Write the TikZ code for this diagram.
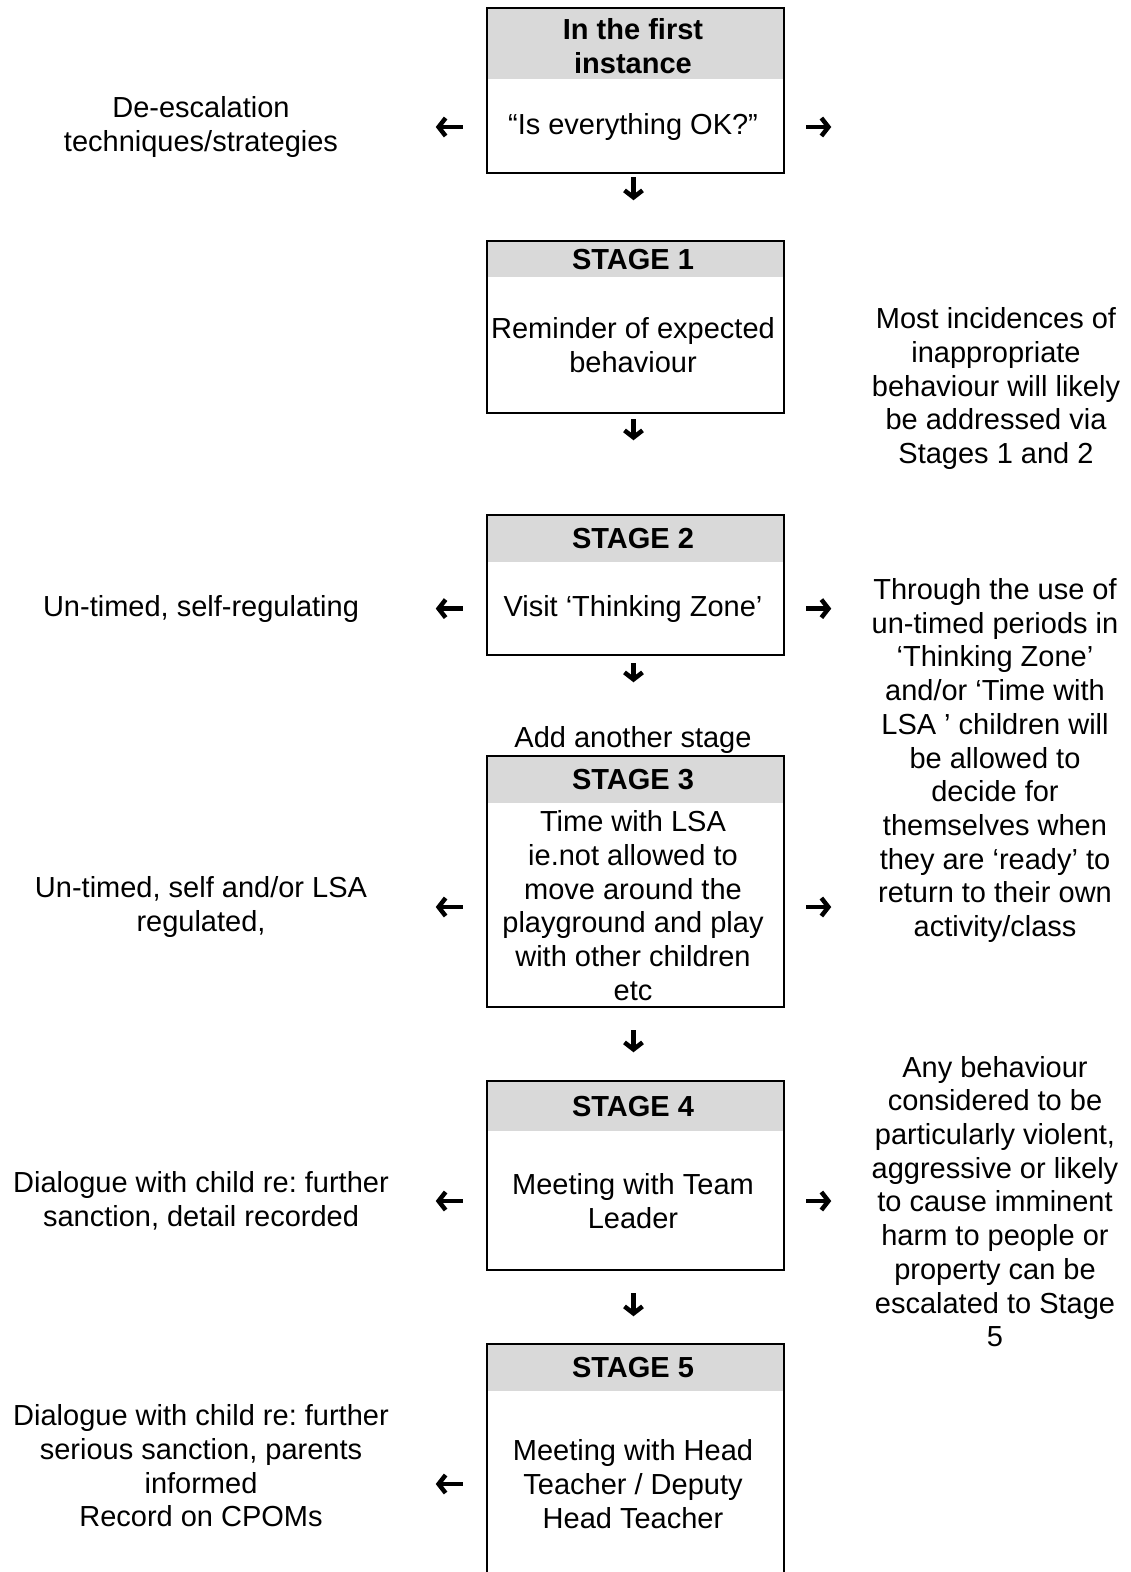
\documentclass[tikz,border=0pt]{standalone}
\usepackage{fontspec}
\setmainfont{Liberation Sans}
\usetikzlibrary{arrows.meta,calc}
\definecolor{hdrgray}{HTML}{D9D9D9}
\newcommand{\fsz}{\fontsize{29}{33.7}\selectfont}
\frenchspacing
\tikzset{
  stagebox/.style={draw, line width=2.5pt, minimum width=297pt, inner sep=0pt},
  txt/.style={align=center, font=\fsz, inner sep=0pt},
  hdrtxt/.style={align=center, font=\fsz\bfseries, inner sep=0pt},
  warrow/.style={line width=4.5pt, -{Straight Barb[length=7pt,width=18pt,line width=4.5pt]}}
}
\begin{document}
\begin{tikzpicture}[x=1pt,y=-1pt]
\useasboundingbox (0,0) rectangle (1131,1572);
\clip (0,0) rectangle (1131,1572);
\fill[white] (0,0) rectangle (1131,1572);
% header fills
\fill[hdrgray] (487,8) rectangle (784,79);
\fill[hdrgray] (487,241) rectangle (784,277);
\fill[hdrgray] (487,515) rectangle (784,562);
\fill[hdrgray] (487,756) rectangle (784,803);
\fill[hdrgray] (487,1081) rectangle (784,1131);
\fill[hdrgray] (487,1344) rectangle (784,1391);
% boxes
\node[stagebox, minimum height=165pt] (b0) at (635.5,90.5) {};
\node[stagebox, minimum height=172pt] (b1) at (635.5,327) {};
\node[stagebox, minimum height=140pt] (b2) at (635.5,585) {};
\node[stagebox, minimum height=251pt] (b3) at (635.5,881.5) {};
\node[stagebox, minimum height=189pt] (b4) at (635.5,1175.5) {};
\node[stagebox, minimum height=256pt] (b5) at (635.5,1472) {};
% box texts
\node[hdrtxt] (h0) at (633,46) {In the first\\instance};
\node[txt] (t0) at (633,127) {“Is everything OK?”};
\node[hdrtxt] (h1) at (633,260) {STAGE 1};
\node[txt] (t1) at (633,345) {Reminder of expected\\behaviour};
\node[hdrtxt] (h2) at (633,538.5) {STAGE 2};
\node[txt] (t2) at (633,608.6) {Visit ‘Thinking Zone’};
\node[txt] (add) at (633,740) {Add another stage};
\node[hdrtxt] (h3) at (633,780) {STAGE 3};
\node[txt] (t3) at (633,905.5) {Time with LSA\\ie.not allowed to\\move around the\\playground and play\\with other children\\etc};
\node[hdrtxt] (h4) at (633,1107) {STAGE 4};
\node[txt] (t4) at (633,1201) {Meeting with Team\\Leader};
\node[hdrtxt] (h5) at (633,1367.5) {STAGE 5};
\node[txt] (t5) at (633,1484) {Meeting with Head\\Teacher / Deputy\\Head Teacher};
% left texts
\node[txt] (l0) at (201,127) {De-escalation\\techniques/strategies};
\node[txt] (l2) at (201,608.6) {Un-timed, self-regulating};
\node[txt] (l3) at (201,907) {Un-timed, self and/or LSA\\regulated,};
\node[txt] (l4) at (201,1201) {Dialogue with child re: further\\sanction, detail recorded};
\node[txt] (l5) at (201,1466) {Dialogue with child re: further\\serious sanction, parents\\informed\\Record on CPOMs};
% right texts
\node[txt] (r1) at (996,388.5) {Most incidences of\\inappropriate\\behaviour will likely\\be addressed via\\Stages 1 and 2};
\node[txt] (r2) at (995,760.5) {Through the use of\\un-timed periods in\\‘Thinking Zone’\\and/or ‘Time with\\LSA ’ children will\\be allowed to\\decide for\\themselves when\\they are ‘ready’ to\\return to their own\\activity/class};
\node[txt] (r3) at (995,1201.6) {Any behaviour\\considered to be\\particularly violent,\\aggressive or likely\\to cause imminent\\harm to people or\\property can be\\escalated to Stage\\5};
% side arrows
\draw[warrow] ($(b0.west|-t0)+(-23,0)$) -- ($(b0.west|-t0)+(-50,0)$);
\draw[warrow] ($(b0.east|-t0)+(21,0)$) -- ($(b0.east|-t0)+(46,0)$);
\draw[warrow] ($(b2.west|-t2)+(-23,0)$) -- ($(b2.west|-t2)+(-50,0)$);
\draw[warrow] ($(b2.east|-t2)+(21,0)$) -- ($(b2.east|-t2)+(46,0)$);
\draw[warrow] ($(b3.west|-l3)+(-23,0)$) -- ($(b3.west|-l3)+(-50,0)$);
\draw[warrow] ($(b3.east|-l3)+(21,0)$) -- ($(b3.east|-l3)+(46,0)$);
\draw[warrow] ($(b4.west|-t4)+(-23,0)$) -- ($(b4.west|-t4)+(-50,0)$);
\draw[warrow] ($(b4.east|-t4)+(21,0)$) -- ($(b4.east|-t4)+(46,0)$);
\draw[warrow] ($(b5.west|-t5)+(-23,0)$) -- ($(b5.west|-t5)+(-50,0)$);
% down arrows
\draw[warrow] ($(b0.south)+(-2,3)$) -- ($(b0.south)+(-2,26)$);
\draw[warrow] ($(b1.south)+(-2,5)$) -- ($(b1.south)+(-2,26)$);
\draw[warrow] ($(b2.south)+(-2,7)$) -- ($(b2.south)+(-2,26)$);
\draw[warrow] ($(b3.south)+(-2,22)$) -- ($(b3.south)+(-2,44)$);
\draw[warrow] ($(b4.south)+(-2,22)$) -- ($(b4.south)+(-2,45)$);
\end{tikzpicture}
\end{document}
